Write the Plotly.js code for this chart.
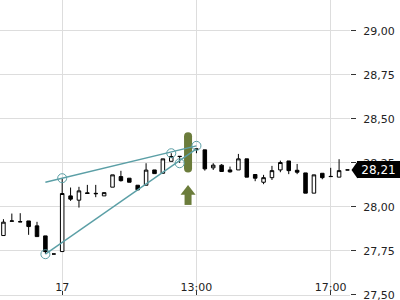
<!DOCTYPE html>
<html><head><meta charset="utf-8">
<script src="https://cdn.plot.ly/plotly-3.0.1.min.js"></script>
<style>html,body{margin:0;padding:0;background:#fff}#chart{width:400px;height:300px}</style>
</head><body><div id="chart"></div>
<script>
// 15-minute bars, numbered left to right
const barNo  = [0,1,2,3,4,5,6,7,8,9,10,11,12,13,14,15,16,17,18,19,20,21,22,23,24,25,26,27,28,29,30,31,32,33,34,35,36,37,38,39,40,41];
const opens  = [27.837,27.918,27.914,27.920,27.892,27.835,27.732,27.746,28.0625,28.038,28.080,28.077,28.0625,28.112,28.172,28.163,28.123,28.123,28.210,28.191,28.259,28.286,28.290,28.328,28.324,28.222,28.237,28.210,28.210,28.273,28.184,28.140,28.166,28.210,28.261,28.208,28.193,28.078,28.191,28.172,28.169,28.210];
const highs  = [27.930,27.962,27.964,27.920,27.915,27.835,27.732,28.163,28.110,28.114,28.125,28.125,28.081,28.182,28.205,28.163,28.123,28.248,28.210,28.273,28.305,28.288,28.330,28.330,28.324,28.248,28.243,28.229,28.301,28.273,28.184,28.182,28.233,28.263,28.261,28.244,28.193,28.182,28.191,28.222,28.271,28.210];
const lows   = [27.837,27.918,27.914,27.841,27.831,27.733,27.732,27.746,28.034,27.996,28.076,28.055,28.0625,28.112,28.144,28.140,28.093,28.123,28.189,28.191,28.259,28.250,28.290,28.305,28.206,28.210,28.201,28.195,28.210,28.169,28.146,28.129,28.153,28.197,28.186,28.186,28.078,28.078,28.157,28.172,28.169,28.210];
const closes = [27.913,27.920,27.916,27.888,27.831,27.746,27.732,28.076,28.044,28.091,28.076,28.075,28.081,28.182,28.149,28.140,28.097,28.209,28.189,28.273,28.286,28.287,28.330,28.329,28.216,28.237,28.201,28.199,28.273,28.169,28.163,28.166,28.206,28.252,28.206,28.197,28.078,28.182,28.166,28.173,28.206,28.210];

const tickBars = [7, 23, 39];
const tickText = ['17', '13:00', '17:00'];

// trend lines and pivot circles
const upperLineBars = [5, 23];
const upperLineVals = [28.140, 28.347];
const lowerLineBars = [5, 23];
const lowerLineVals = [27.731, 28.330];
const pivotBars = [5, 7, 20, 21, 23];
const pivotVals = [27.731, 28.163, 28.305, 28.248, 28.347];

// signal marker
const signalBar = 22;
const signalTop = 28.424;
const signalBottom = 28.195;
const arrowTop = 28.125;
const arrowBottom = 28.011;

const lastPrice = 28.21;

const yMin = 27.499, yMax = 29.176;
const plotH = 295;
const pxU = (yMax - yMin) / plotH; // value per pixel

const teal = '#5b9fa6';
const green = '#6b7c3b';

const traces = [
  { // signal capsule
    type:'scatter', mode:'lines+markers',
    x:[signalBar, signalBar], y:[signalTop - 4*pxU, signalBottom + 4*pxU],
    line:{color:green, width:8}, marker:{color:green, size:8, symbol:'circle', line:{width:0}},
    hoverinfo:'skip', cliponaxis:false
  },
  { // arrow head
    type:'scatter', mode:'markers',
    x:[signalBar], y:[arrowTop - 6.5*pxU],
    marker:{color:green, size:13, symbol:'triangle-up', line:{width:0}}, hoverinfo:'skip'
  },
  { // arrow shaft
    type:'scatter', mode:'lines',
    x:[signalBar, signalBar], y:[arrowTop - 9*pxU, arrowBottom],
    line:{color:green, width:7}, hoverinfo:'skip'
  },
  { type:'scatter', mode:'lines', x:upperLineBars, y:upperLineVals, line:{color:teal, width:1.4}, hoverinfo:'skip' },
  { type:'scatter', mode:'lines', x:lowerLineBars, y:lowerLineVals, line:{color:teal, width:1.4}, hoverinfo:'skip' },
  {
    type:'candlestick', x:barNo, open:opens, high:highs, low:lows, close:closes,
    increasing:{line:{color:'#000', width:1}, fillcolor:'#fff'},
    decreasing:{line:{color:'#000', width:1}, fillcolor:'#000'},
    whiskerwidth:0, hoverinfo:'skip'
  },
  {
    type:'scatter', mode:'markers', x:pivotBars, y:pivotVals,
    marker:{symbol:'circle-open', size:9, color:teal, line:{width:1, color:teal}}, hoverinfo:'skip'
  }
];

const lastPy = (lastPrice - yMin) / (yMax - yMin);
const plotW = 350;
const layout = {
  width:400, height:300,
  margin:{l:0, r:50, t:0, b:5, pad:0},
  paper_bgcolor:'#fff', plot_bgcolor:'#fff',
  showlegend:false,
  separators:',.',
  boxgap:0.4,
  font:{family:'DejaVu Sans', size:11, color:'#222'},
  xaxis:{
    range:[-0.41, 41.3], tickvals:tickBars, ticktext:tickText,
    showgrid:true, gridcolor:'#dddddd', gridwidth:1,
    ticks:'inside', ticklen:4, tickcolor:'#333', tickwidth:1,
    ticklabelposition:'outside', ticklabelstandoff:-18, ticklabeloverflow:'allow',
    showline:true, linecolor:'#dddddd', linewidth:1,
    zeroline:false, rangeslider:{visible:false}, fixedrange:true
  },
  yaxis:{
    side:'right', range:[yMin, yMax], tick0:27.5, dtick:0.25, tickformat:'.2f',
    showgrid:true, gridcolor:'#dddddd', gridwidth:1,
    ticks:'outside', ticklen:5, tickcolor:'#333', tickwidth:1, ticklabelstandoff:5,
    ticklabeloverflow:'allow',
    zeroline:false, showline:false, fixedrange:true
  },
  shapes:[{
    type:'path', xref:'paper', yref:'paper', layer:'above',
    path:'M ' + (351.5/plotW) + ' ' + lastPy + ' L ' + (357.5/plotW) + ' ' + (lastPy + 8.5/plotH) +
         ' L ' + (357.5/plotW) + ' ' + (lastPy - 8.5/plotH) + ' Z',
    fillcolor:'#000', line:{width:0}
  }],
  annotations:[{
    xref:'paper', yref:'y', x:400/plotW, y:lastPrice, xanchor:'right', yanchor:'middle',
    text:lastPrice.toFixed(2).replace('.', ','), showarrow:false,
    bgcolor:'#000', bordercolor:'#000', borderwidth:1, borderpad:2,
    width:37, height:11, font:{family:'DejaVu Sans', size:12, color:'#fff'}
  }]
};

Plotly.newPlot('chart', traces, layout, {displayModeBar:false, staticPlot:true});
</script>
</body></html>
